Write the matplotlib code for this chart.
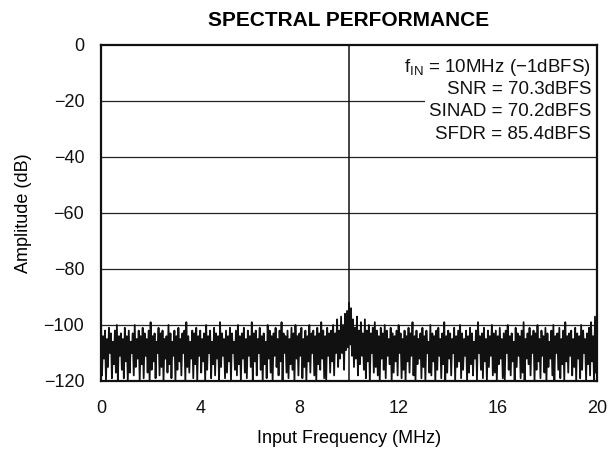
import numpy as np
import matplotlib
matplotlib.use("Agg")
import matplotlib.pyplot as plt
from matplotlib.patches import Rectangle

plt.rcParams['font.family'] = ['Liberation Sans', 'DejaVu Sans']

# Noise floor of the FFT trace: alternating local maxima (hi) and minima (lo), 0.08 MHz per pair
hi = [
    -99, -104, -102, -105, -101, -103, -106, -102, -100, -104,
    -103, -105, -101, -104, -102, -106, -103, -100, -105, -102,
    -104, -101, -103, -105, -102, -99, -104, -103, -106, -101,
    -103, -102, -105, -104, -100, -103, -106, -102, -104, -101,
    -105, -103, -102, -99, -104, -106, -102, -103, -101, -104,
    -102, -105, -103, -100, -104, -102, -106, -101, -103, -104,
    -99, -103, -105, -102, -104, -101, -103, -106, -102, -100,
    -104, -103, -101, -105, -102, -104, -99, -103, -102, -105,
    -101, -104, -103, -106, -100, -102, -104, -103, -101, -105,
    -102, -99, -103, -104, -102, -105, -101, -103, -100, -104,
    -103, -101, -105, -102, -104, -100, -103, -102, -104, -101,
    -103, -99, -102, -104, -101, -103, -102, -100, -103, -98,
    -102, -97, -100, -96, -95, -92, -94, -98, -101, -97,
    -102, -99, -103, -98, -102, -100, -103, -101, -99, -102,
    -104, -101, -103, -100, -102, -105, -101, -103, -104, -102,
    -100, -103, -105, -102, -104, -101, -103, -99, -104, -102,
    -105, -103, -101, -104, -102, -106, -100, -103, -104, -102,
    -101, -105, -103, -99, -104, -102, -103, -105, -101, -104,
    -102, -100, -103, -105, -102, -104, -101, -103, -106, -102,
    -99, -104, -103, -101, -105, -102, -104, -100, -103, -102,
    -104, -101, -105, -103, -102, -100, -104, -103, -106, -101,
    -103, -104, -102, -99, -105, -103, -101, -104, -102, -103,
    -100, -105, -102, -104, -101, -103, -106, -102, -100, -104,
    -103, -101, -105, -102, -99, -104, -103, -102, -105, -101,
    -103, -104, -100, -102, -105, -103, -101, -99, -104, -97,
]
lo = [
    -118, -112, -120, -115, -110, -119, -114, -117, -120, -111,
    -116, -119, -113, -120, -117, -110, -118, -115, -112, -120,
    -114, -119, -111, -117, -120, -116, -113, -119, -110, -118,
    -115, -120, -112, -117, -114, -119, -111, -120, -116, -113,
    -118, -110, -120, -115, -117, -112, -119, -114, -120, -111,
    -117, -113, -120, -116, -110, -119, -114, -118, -112, -120,
    -115, -111, -119, -117, -113, -120, -110, -116, -118, -114,
    -120, -112, -117, -119, -111, -115, -120, -113, -118, -110,
    -116, -120, -114, -119, -112, -117, -120, -111, -115, -118,
    -113, -120, -110, -117, -119, -114, -116, -120, -112, -118,
    -111, -119, -115, -120, -113, -117, -110, -118, -120, -114,
    -116, -112, -119, -120, -111, -117, -113, -118, -110, -115,
    -112, -110, -116, -109, -108, -107, -111, -115, -112, -118,
    -114, -111, -116, -119, -113, -120, -110, -117, -115, -118,
    -120, -112, -116, -119, -111, -114, -120, -117, -113, -118,
    -110, -119, -116, -120, -113, -117, -111, -118, -120, -114,
    -112, -119, -115, -120, -110, -117, -118, -113, -120, -116,
    -111, -119, -114, -120, -117, -112, -118, -110, -120, -115,
    -113, -119, -116, -111, -120, -117, -114, -118, -112, -120,
    -110, -116, -119, -113, -120, -115, -111, -118, -117, -120,
    -114, -112, -119, -120, -110, -116, -118, -113, -120, -115,
    -111, -119, -117, -120, -112, -114, -118, -110, -120, -116,
    -113, -119, -111, -117, -120, -115, -112, -118, -120, -110,
    -116, -119, -114, -120, -113, -117, -111, -118, -115, -120,
    -112, -119, -116, -110, -120, -114, -118, -113, -120, -117,
]
bin_width_mhz = 0.04

# Fundamental tone
fund_freq = [10.0]
fund_amp = [-0.5]

x_ticks = [0, 4, 8, 12, 16, 20]
y_ticks = [0, -20, -40, -60, -80, -100, -120]
y_tick_labels = ['0', '\u221220', '\u221240', '\u221260', '\u221280', '\u2212100', '\u2212120']

annot_lines = [
    'f$_{\\mathregular{IN}}$ = 10MHz (\u22121dBFS)',
    'SNR = 70.3dBFS',
    'SINAD = 70.2dBFS',
    'SFDR = 85.4dBFS',
]
annot_y = [-7.9, -16.0, -23.9, -31.8]

amp = np.empty(2 * len(hi))
amp[0::2] = hi
amp[1::2] = lo
freq = np.arange(len(amp)) * bin_width_mhz

fig = plt.figure(figsize=(6.1, 4.54), dpi=100)
ax = fig.add_axes([0.1656, 0.1608, 0.8131, 0.7401])

ax.plot(freq, amp, color='#111111', lw=1.3, zorder=3)
ax.vlines(fund_freq, -120, fund_amp, color='#111111', lw=1.1, zorder=3)

ax.set_xlim(0, 20)
ax.set_ylim(-120, 0)
ax.set_xticks(x_ticks)
ax.set_xticklabels([str(v) for v in x_ticks])
ax.set_yticks(y_ticks)
ax.set_yticklabels(y_tick_labels)
ax.tick_params(length=0, labelsize=13, colors='#111111')
ax.tick_params(axis='y', pad=12)
ax.tick_params(axis='x', pad=14)

for v in y_ticks[1:-1]:
    ax.axhline(v, color='#222222', lw=0.9, zorder=1)

for s in ax.spines.values():
    s.set_linewidth(1.6)
    s.set_color('#111111')

ax.add_patch(Rectangle((0.653, 0.71), 0.347, 0.28, transform=ax.transAxes,
                       facecolor='white', edgecolor='none', zorder=2))
for txt, yv in zip(annot_lines, annot_y):
    ax.text(0.988, yv, txt, transform=ax.get_yaxis_transform(), ha='right', va='center',
            fontsize=13.5, color='#111111', zorder=4)

ax.set_title('SPECTRAL PERFORMANCE', fontsize=15, fontweight='bold', pad=14)
ax.set_xlabel('Input Frequency (MHz)', fontsize=13, labelpad=9)
ax.set_ylabel('Amplitude (dB)', fontsize=13, labelpad=8)

fig.savefig('out.png', dpi=100)
